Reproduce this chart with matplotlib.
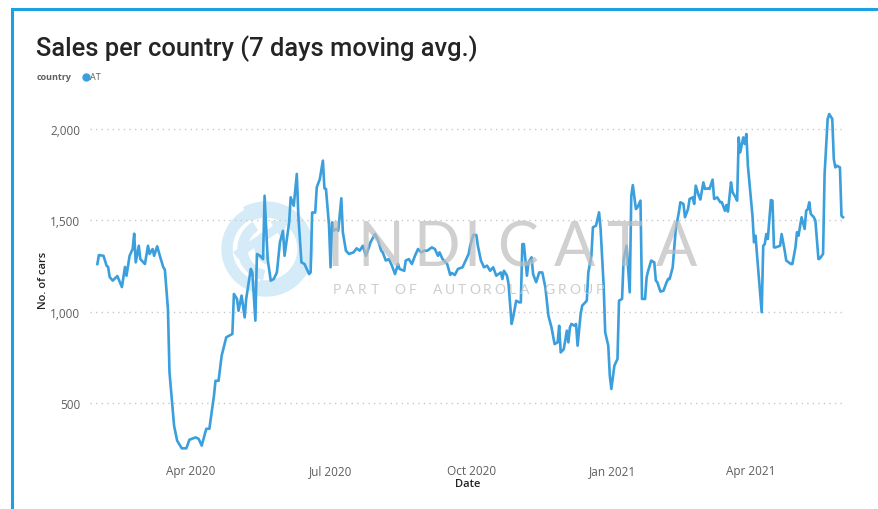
import numpy as np
import pandas as pd
import matplotlib
matplotlib.use('Agg')
import matplotlib.pyplot as plt
import matplotlib.dates as mdates
from matplotlib.ticker import FuncFormatter
from matplotlib.patches import Wedge, FancyArrow
from matplotlib.lines import Line2D
from matplotlib.transforms import IdentityTransform

# days since 2020-01-31 and 7-day moving average of sales (AT)
start = pd.Timestamp('2020-01-31')
day = [0, 1, 4, 6, 7, 8, 10, 13, 16, 18, 19, 21, 23, 24, 25, 27, 28, 31, 33, 34,
       36, 37, 39, 41, 43, 44, 46, 47, 50, 52, 55, 58, 60, 64, 66, 68, 71, 73, 76, 77,
       79, 81, 84, 86, 88, 89, 91, 92, 94, 96, 97, 100, 101, 103, 104, 106, 108, 109, 111, 113,
       115, 117, 119, 121, 122, 125, 126, 128, 130, 131, 133, 135, 138, 139, 140, 142, 143, 145, 147, 148,
       149, 151, 152, 153, 154, 156, 157, 159, 160, 162, 164, 167, 169, 171, 173, 175, 177, 178, 181, 183,
       185, 186, 188, 190, 192, 194, 196, 197, 200, 201, 203, 205, 207, 209, 211, 213, 215, 218, 220, 222,
       223, 225, 228, 230, 231, 233, 235, 238, 240, 242, 243, 245, 247, 248, 250, 252, 254, 256, 258, 260,
       263, 264, 265, 267, 268, 270, 271, 273, 275, 276, 277, 278, 280, 281, 283, 284, 286, 288, 290, 292,
       294, 296, 298, 300, 301, 302, 304, 306, 307, 308, 309, 311, 312, 313, 315, 316, 319, 320, 322, 323,
       325, 326, 327, 328, 330, 331, 333, 334, 335, 337, 339, 340, 342, 343, 345, 346, 347, 348, 349, 351,
       352, 354, 355, 357, 358, 359, 361, 363, 364, 365, 367, 369, 371, 372, 373, 375, 377, 379, 380, 382,
       383, 385, 386, 388, 389, 390, 392, 393, 395, 396, 398, 399, 401, 402, 404, 406, 407, 409, 410, 411,
       413, 414, 416, 417, 418, 419, 421, 422, 423, 424, 427, 428, 429, 430, 433, 434, 435, 436, 437, 439,
       440, 441, 442, 445, 446, 448, 449, 452, 453, 455, 456, 457, 459, 461, 462, 463, 464, 465, 467, 468,
       470, 471, 473, 474, 476, 477, 479, 480, 481, 482, 484, 485, 486]
cars = [1261, 1310, 1306, 1252, 1245, 1190, 1170, 1195, 1135, 1245, 1197, 1306, 1343, 1427, 1270, 1361, 1288, 1261, 1361, 1316,
        1343, 1306, 1358, 1298, 1243, 1230, 1015, 670, 376, 294, 252, 252, 299, 312, 304, 267, 359, 359, 540, 622,
        622, 759, 860, 869, 878, 1097, 1070, 1005, 1088, 969, 1070, 1234, 1215, 951, 1316, 1306, 1288, 1635, 1288, 1170,
        1179, 1215, 1380, 1443, 1306, 1489, 1626, 1580, 1754, 1525, 1270, 1261, 1206, 1215, 1543, 1543, 1681, 1726, 1827, 1675,
        1672, 1471, 1243, 1489, 1443, 1453, 1443, 1621, 1435, 1334, 1316, 1325, 1347, 1334, 1361, 1306, 1352, 1380, 1425, 1389,
        1334, 1325, 1280, 1288, 1252, 1206, 1261, 1234, 1224, 1280, 1288, 1261, 1306, 1343, 1325, 1334, 1334, 1352, 1343, 1306,
        1325, 1288, 1261, 1201, 1212, 1201, 1234, 1243, 1280, 1316, 1361, 1420, 1420, 1361, 1280, 1243, 1252, 1224, 1243, 1197,
        1215, 1179, 1224, 1197, 1152, 933, 969, 1060, 1051, 1051, 1370, 1370, 1197, 1270, 1298, 1206, 1161, 1215, 1215, 1133,
        978, 914, 823, 832, 923, 777, 795, 896, 832, 914, 933, 923, 933, 814, 987, 1033, 1060, 1215, 1306, 1462,
        1471, 1507, 1544, 1453, 1142, 887, 814, 650, 577, 705, 741, 1060, 1070, 1288, 1361, 1234, 1106, 1635, 1693, 1562,
        1571, 1608, 1070, 1070, 1188, 1224, 1280, 1270, 1170, 1161, 1110, 1115, 1161, 1179, 1179, 1243, 1453, 1544, 1599, 1590,
        1517, 1562, 1617, 1626, 1590, 1690, 1635, 1614, 1708, 1672, 1675, 1672, 1723, 1617, 1626, 1599, 1600, 1553, 1584, 1548,
        1708, 1654, 1626, 1608, 1954, 1872, 1954, 1918, 1973, 1799, 1525, 1380, 1416, 1306, 997, 1361, 1370, 1425, 1398, 1611,
        1608, 1352, 1352, 1361, 1425, 1334, 1280, 1261, 1261, 1352, 1435, 1416, 1517, 1453, 1553, 1560, 1599, 1535, 1517, 1498,
        1288, 1292, 1316, 1754, 2055, 2082, 2055, 1836, 1790, 1799, 1790, 1525, 1517]

dates = start + pd.to_timedelta(day, unit='D')
yticks = [500, 1000, 1500, 2000]

W, H = 879, 510
fig = plt.figure(figsize=(W / 100, H / 100), dpi=100)
fig.patch.set_facecolor('white')


def fx(px):
    return px / W


def fy(py):
    return 1 - py / H


tr = fig.transFigure
ax = fig.add_axes([fx(90), fy(455), fx(845) - fx(90), fy(105) - fy(455)])

# watermark logo (behind the line)
lc = '#d6ebf8'
cx, cy = 266, H - 250
for p in [Wedge((cx, cy), 47, -100, 118, width=15),
          Wedge((cx, cy), 44, 118, 262, width=10),
          Wedge((cx + 3, cy), 31, 122, 258, width=9),
          Wedge((cx + 7, cy + 2), 18, 130, 250, width=7)]:
    p.set_transform(IdentityTransform())
    p.set_color(lc)
    p.set_zorder(0)
    fig.patches.append(p)
arr = FancyArrow(236, cy - 6, 40, 26, width=7, head_width=18, head_length=13,
                 color=lc, transform=IdentityTransform(), zorder=0)
fig.patches.append(arr)

ax.set_zorder(1)
ax.patch.set_alpha(0)

ax.plot(dates, cars, color='#3a9fdc', linewidth=1.9, zorder=3, solid_joinstyle='round')

ax.set_xlim(start - pd.Timedelta(days=4.8), start + pd.Timedelta(days=487.3))
ax.set_ylim(221, 2137)
ax.set_yticks(yticks)
ax.yaxis.set_major_formatter(FuncFormatter(lambda v, p: f'{v:,.0f}'))
ax.xaxis.set_major_locator(mdates.MonthLocator(bymonth=[1, 4, 7, 10]))
ax.xaxis.set_major_formatter(mdates.DateFormatter('%b %Y'))

for s in ax.spines.values():
    s.set_visible(False)
ax.tick_params(length=0, labelsize=8.5, labelcolor='#605e5c', pad=7)
for lab in ax.get_xticklabels() + ax.get_yticklabels():
    lab.set_fontfamily('Open Sans')
ax.grid(axis='y', color='#c8c8c8', linestyle=(0, (1, 3)), linewidth=1)
ax.grid(axis='x', visible=False)

ax.set_xlabel('Date', fontsize=8, color='#252423', family='Open Sans', fontweight='semibold', labelpad=1)
ax.set_ylabel('No. of cars', fontsize=8, color='#252423', family='Open Sans', fontweight='semibold', labelpad=1)

# watermark text (on top, translucent)
letters = 'INDICATA'
lx = [335, 381, 437, 472, 518, 575, 624, 676]
for ch, x in zip(letters, lx):
    fig.text(fx(x), fy(249), ch, fontsize=44, family='Lato', fontweight='normal', color='#bcbcbc',
             alpha=0.7, ha='center', va='center', zorder=5)
sub = 'PART OF AUTOROLA GROUP'
sx = np.linspace(337, 600, len(sub))
for ch, x in zip(sub, sx):
    fig.text(fx(x), fy(290), ch, fontsize=10, family='Lato', color='#c4c4c4',
             alpha=0.85, ha='center', va='center', zorder=5)

# title and legend
fig.text(fx(36), fy(49), 'Sales per country (7 days moving avg.)', fontsize=18.4, family='Roboto',
         fontweight='medium', color='#252423', ha='left', va='center')
fig.text(fx(37), fy(78), 'country', fontsize=6.5, family='Open Sans', fontweight='bold',
         color='#605e5c', ha='left', va='center')
fig.add_artist(Line2D([fx(86)], [fy(77.5)], transform=tr, marker='o', markersize=5,
                      color='#3a9fdc', linestyle='none'))
fig.text(fx(90.5), fy(78), 'AT', fontsize=6.5, family='Open Sans', color='#605e5c', ha='left', va='center')

# blue frame
bc = '#1ba1e2'
fig.add_artist(Line2D([fx(12), fx(12)], [fy(10), 0], transform=tr, color=bc, linewidth=2.2))
fig.add_artist(Line2D([fx(12), 1], [fy(10), fy(10)], transform=tr, color=bc, linewidth=2.2))

fig.savefig('out.png', dpi=100, facecolor='white')
